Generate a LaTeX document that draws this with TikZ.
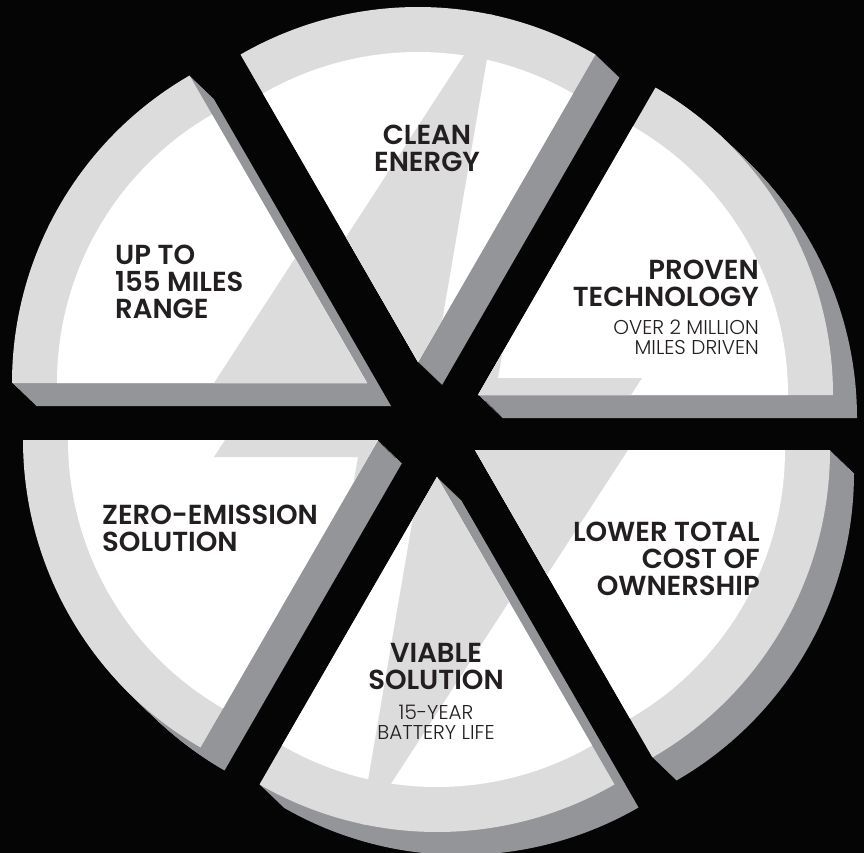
\documentclass[tikz,border=0pt]{standalone}
\usepackage{fontspec}
\setmainfont{Poppins}[BoldFont={Poppins SemiBold}]
\newfontfamily\lightfont{Poppins Light}
\definecolor{ink}{HTML}{231F20}
\definecolor{rimgray}{HTML}{DCDCDD}
\definecolor{sidegray}{HTML}{939598}
\definecolor{night}{HTML}{050505}

\tikzset{
  face/.style={fill=rimgray},
  core/.style={fill=white},
  side/.style={fill=sidegray},
  bolt/.style={fill=rimgray},
  headline/.style={font=\bfseries\fontsize{27.5}{27}\selectfont,text=ink,inner sep=0pt},
  subline/.style={font=\lightfont\fontsize{20}{19.5}\selectfont,text=ink,inner sep=0pt}
}

% one exploded slice of the pie: #1 apex, #2 start angle
\newcommand\boltwedge[2]{%
  \foreach \k in {1,...,24}
    \fill[side] ([shift={(\k,\k*0.96)}]#1) -- ++(-#2:355)
      arc[start angle=-#2,end angle=-#2-60,radius=355] -- cycle;
  \begin{scope}[shift={(#1)}]
    \fill[face] (0,0) -- (-#2:355) arc[start angle=-#2,end angle=-#2-60,radius=355] -- cycle;
    \fill[core] (0,0) -- (-#2:310) arc[start angle=-#2,end angle=-#2-60,radius=310] -- cycle;
    \clip (0,0) -- (-#2:355) arc[start angle=-#2,end angle=-#2-60,radius=355] -- cycle;
    \fill[bolt] (78,-356) -- (-164,17) -- (-20,17) -- (-78,356) -- (164,-17) -- (20,-17) -- cycle;
  \end{scope}}

\begin{document}
\begin{tikzpicture}[x=1pt,y=-1pt]
  \useasboundingbox (0,0) rectangle (864,853);
  \fill[night] (0,0) rectangle (864,853);
  % apexes of the six slices
  \coordinate (ul) at (367,383);
  \coordinate (top) at (418,362);
  \coordinate (ur) at (478,395);
  \coordinate (lr) at (475,450);
  \coordinate (bot) at (437,477);
  \coordinate (ll) at (378,440);
  \boltwedge{ul}{120}
  \boltwedge{top}{60}
  \boltwedge{ur}{0}
  \boltwedge{lr}{300}
  \boltwedge{bot}{240}
  \boltwedge{ll}{180}
  % labels
  \node[headline,anchor=north,align=center] (clean) at (427,125) {CLEAN\\ENERGY};
  \node[headline,anchor=north west,align=left] (range) at (115,245) {UP TO\\155 MILES\\RANGE};
  \node[headline,anchor=north east,align=right] (proven) at (759,260) {PROVEN\\TECHNOLOGY};
  \node[subline,anchor=north east,align=right] (miles) at (759,320) {OVER 2 MILLION\\MILES DRIVEN};
  \node[headline,anchor=north west,align=left] (zero) at (102,505) {ZERO-EMISSION\\SOLUTION};
  \node[headline,anchor=north east,align=right] (cost) at (760,522) {LOWER TOTAL\\COST OF\\OWNERSHIP};
  \node[headline,anchor=north,align=center] (viable) at (436,643) {VIABLE\\SOLUTION};
  \node[subline,anchor=north,align=center] (battery) at (436,705) {15-YEAR\\BATTERY LIFE};
\end{tikzpicture}
\end{document}
